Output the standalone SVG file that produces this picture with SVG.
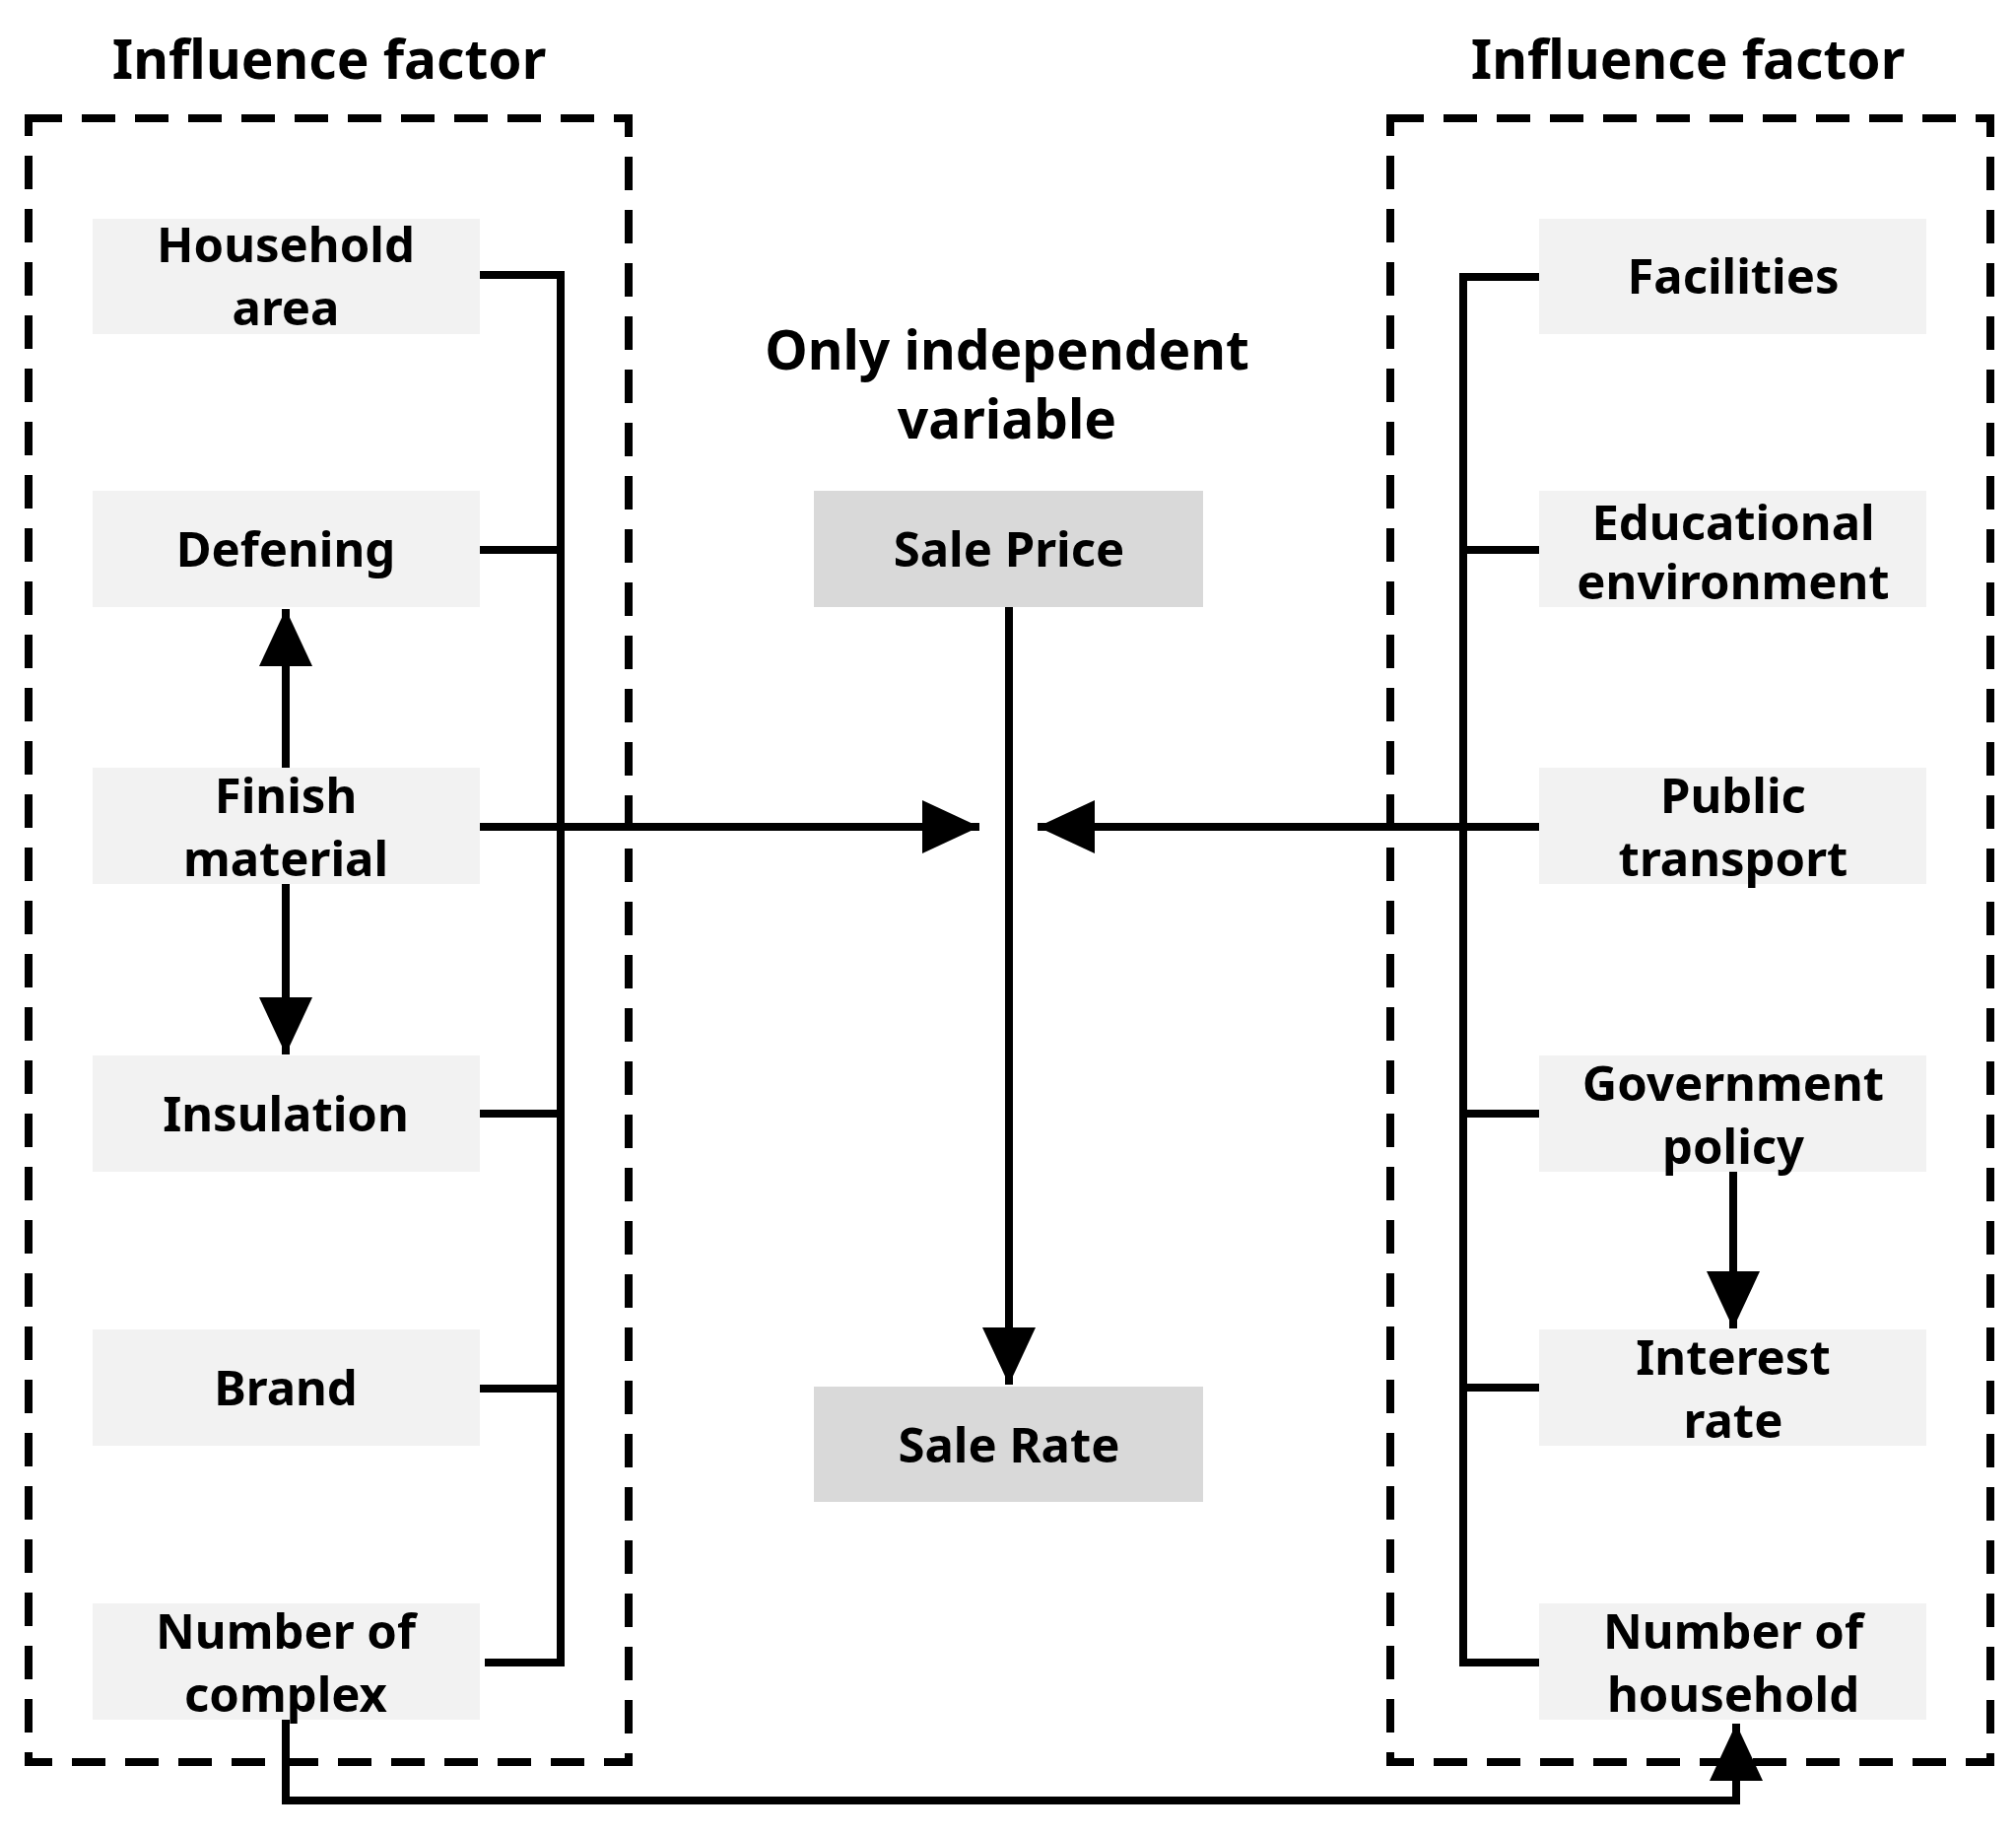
<svg xmlns="http://www.w3.org/2000/svg" width="2046" height="1862" viewBox="0 0 2046 1862">
<defs>
<style>
text{font-family:"Noto Sans","DejaVu Sans",sans-serif;font-weight:bold;fill:#000;text-anchor:middle}
.t{font-size:55px}
.n{font-size:49px}
.side{fill:#f2f2f2}
.mid{fill:#d9d9d9}
.box{fill:none;stroke:#000;stroke-width:8;stroke-dasharray:34 20}
.ln{fill:none;stroke:#000;stroke-width:8}
</style>
<marker id="ah" markerUnits="userSpaceOnUse" markerWidth="60" markerHeight="54" refX="58" refY="27" orient="auto"><path d="M0,0 L58,27 L0,54 Z" fill="#000"/></marker>
</defs>
<rect width="2046" height="1862" fill="#fff"/>
<text class="t" x="334" y="80">Influence factor</text>
<text class="t" x="1713" y="80">Influence factor</text>
<rect class="box" x="29" y="120" width="609" height="1668"/>
<rect class="box" x="1411" y="120" width="609" height="1668"/>
<text class="t" x="1022" y="375">Only independent</text>
<text class="t" x="1022" y="445">variable</text>
<g id="connectors">
<path class="ln" d="M487,279 H569 V1687 H492 M487,558 H569 M569,1130 H487 M569,1409 H487"/>
<path class="ln" d="M1562,281 H1485 V1687 H1562 M1485,558 H1562 M1485,1130 H1562 M1485,1408 H1562"/>
<path class="ln" d="M487,839 H994" marker-end="url(#ah)"/>
<path class="ln" d="M1562,839 H1053" marker-end="url(#ah)"/>
<path class="ln" d="M1024,616 V1405" marker-end="url(#ah)"/>
<path class="ln" d="M290,779 V618" marker-end="url(#ah)"/>
<path class="ln" d="M290,897 V1070" marker-end="url(#ah)"/>
<path class="ln" d="M1759,1189 V1348" marker-end="url(#ah)"/>
<path class="ln" d="M290,1745 V1827 H1762 V1749" marker-end="url(#ah)"/>
</g>
<g id="household-area"><rect class="side" x="94" y="222" width="393" height="117"/><text class="n" x="290" y="266">Household</text><text class="n" x="290" y="330">area</text></g>
<g id="defening"><rect class="side" x="94" y="498" width="393" height="118"/><text class="n" x="290" y="575">Defening</text></g>
<g id="finish-material"><rect class="side" x="94" y="779" width="393" height="118"/><text class="n" x="290" y="825">Finish</text><text class="n" x="290" y="889">material</text></g>
<g id="insulation"><rect class="side" x="94" y="1071" width="393" height="118"/><text class="n" x="290" y="1148">Insulation</text></g>
<g id="brand"><rect class="side" x="94" y="1349" width="393" height="118"/><text class="n" x="290" y="1426">Brand</text></g>
<g id="number-of-complex"><rect class="side" x="94" y="1627" width="393" height="118"/><text class="n" x="290" y="1673">Number of</text><text class="n" x="290" y="1737">complex</text></g>
<g id="facilities"><rect class="side" x="1562" y="222" width="393" height="117"/><text class="n" x="1759" y="298">Facilities</text></g>
<g id="educational-environment"><rect class="side" x="1562" y="498" width="393" height="118"/><text class="n" x="1759" y="548">Educational</text><text class="n" x="1759" y="608">environment</text></g>
<g id="public-transport"><rect class="side" x="1562" y="779" width="393" height="118"/><text class="n" x="1759" y="825">Public</text><text class="n" x="1759" y="889">transport</text></g>
<g id="government-policy"><rect class="side" x="1562" y="1071" width="393" height="118"/><text class="n" x="1759" y="1117">Government</text><text class="n" x="1759" y="1181">policy</text></g>
<g id="interest-rate"><rect class="side" x="1562" y="1349" width="393" height="118"/><text class="n" x="1759" y="1395">Interest</text><text class="n" x="1759" y="1459">rate</text></g>
<g id="number-of-household"><rect class="side" x="1562" y="1627" width="393" height="118"/><text class="n" x="1759" y="1673">Number of</text><text class="n" x="1759" y="1737">household</text></g>
<g id="sale-price"><rect class="mid" x="826" y="498" width="395" height="118"/><text class="n" x="1024" y="575">Sale Price</text></g>
<g id="sale-rate"><rect class="mid" x="826" y="1407" width="395" height="117"/><text class="n" x="1024" y="1484">Sale Rate</text></g>
</svg>
